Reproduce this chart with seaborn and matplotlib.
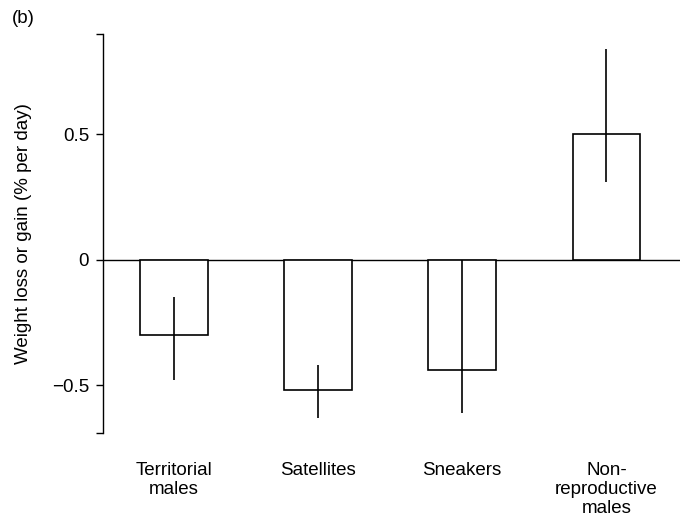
import pandas as pd
import numpy as np
import matplotlib.pyplot as plt
import seaborn as sns

# Data
groups = ['Territorial\nmales', 'Satellites', 'Sneakers', 'Non-\nreproductive\nmales']
weight_change = [-0.30, -0.52, -0.44, 0.50]
err_low = [-0.48, -0.63, -0.61, 0.31]
err_high = [-0.15, -0.42, 0.00, 0.84]

df = pd.DataFrame({'group': groups, 'change': weight_change})

sns.set_style('ticks')
plt.rcParams['font.family'] = ['Liberation Sans', 'DejaVu Sans']
plt.rcParams['text.color'] = 'black'
plt.rcParams['axes.labelcolor'] = 'black'
plt.rcParams['xtick.color'] = 'black'
plt.rcParams['ytick.color'] = 'black'

fig = plt.figure(figsize=(6.8, 5.2), dpi=100)
ax = fig.add_axes([0.1515, 0.1673, 0.8485, 0.7673])

sns.barplot(data=df, x='group', y='change', color='white', edgecolor='black',
            linewidth=1.2, width=0.47, saturation=1, errorbar=None, ax=ax)

# Error bars (no caps)
xs = np.arange(len(groups))
lower = np.array(weight_change) - np.array(err_low)
upper = np.array(err_high) - np.array(weight_change)
ax.errorbar(xs, weight_change, yerr=[lower, upper], fmt='none',
            ecolor='black', elinewidth=1.2, capsize=0)

ax.axhline(0, color='black', linewidth=1.0, zorder=0.5)

ax.set_xlim(-0.49, 3.51)
ax.set_ylim(-0.69, 0.90)
ax.set_yticks([-0.5, 0, 0.5])
ax.set_yticklabels(['\u22120.5', '0', '0.5'])
ax.set_yticks([-0.69, 0.90], minor=True)
ax.tick_params(axis='y', which='both', length=5, width=1.0, color='black',
               labelcolor='black', labelsize=13.5, pad=5)
ax.tick_params(axis='x', length=0, labelsize=13.5, labelcolor='black', pad=21)
for lbl in ax.get_xticklabels():
    lbl.set_linespacing(1.15)

for s in ['top', 'right', 'bottom']:
    ax.spines[s].set_visible(False)
ax.spines['left'].set_linewidth(1.0)
ax.spines['left'].set_color('black')

ax.set_xlabel('')
ax.set_ylabel('Weight loss or gain (% per day)', fontsize=13.5, labelpad=14,
              color='black')

fig.text(0.018, 0.965, '(b)', fontsize=13.5, va='center', ha='left')

plt.savefig('out.png', dpi=100)
